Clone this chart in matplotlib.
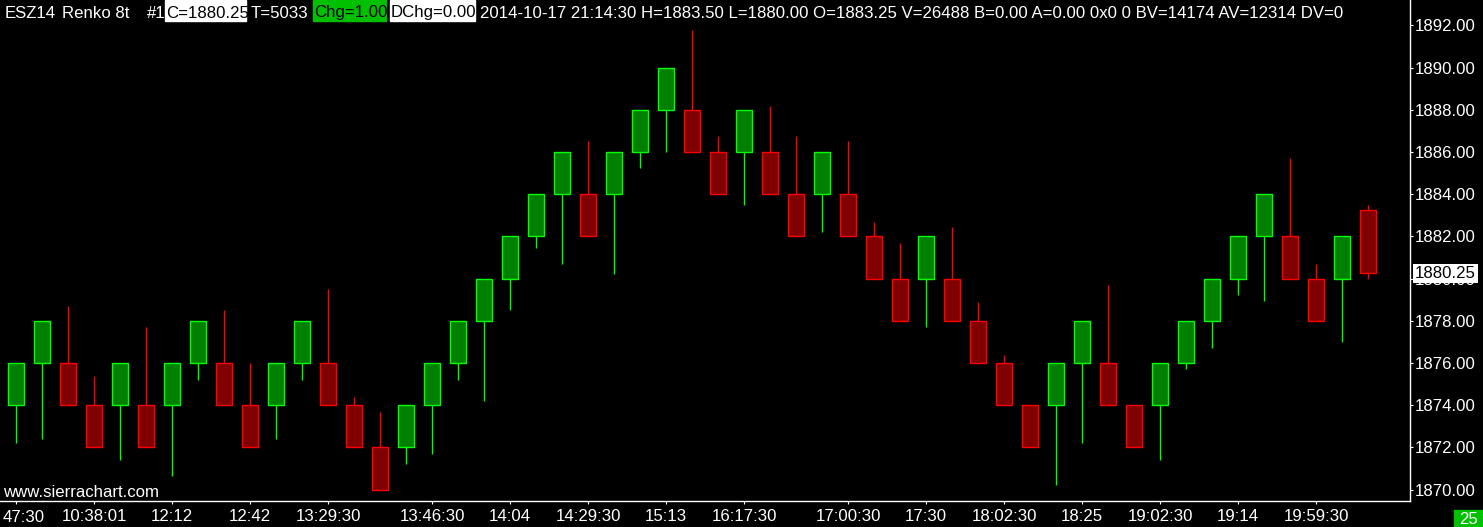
import matplotlib.pyplot as plt
import matplotlib.patches as mpatches
import numpy as np

W, H = 1483, 527

# renko bricks (8 ticks = 2.00 points)
opens = [1874, 1876, 1876, 1874, 1874, 1874, 1874, 1876, 1876, 1874,
         1874, 1876, 1876, 1874, 1872, 1872, 1874, 1876, 1878, 1880,
         1882, 1884, 1884, 1884, 1886, 1888, 1888, 1886, 1886, 1886,
         1884, 1884, 1884, 1882, 1880, 1880, 1880, 1878, 1876, 1874,
         1874, 1876, 1876, 1874, 1874, 1876, 1878, 1880, 1882, 1882,
         1880, 1880, 1883.25]
closes = [1876, 1878, 1874, 1872, 1876, 1872, 1876, 1878, 1874, 1872,
          1876, 1878, 1874, 1872, 1870, 1874, 1876, 1878, 1880, 1882,
          1884, 1886, 1882, 1886, 1888, 1890, 1886, 1884, 1888, 1884,
          1882, 1886, 1882, 1880, 1878, 1882, 1878, 1876, 1874, 1872,
          1876, 1878, 1874, 1872, 1876, 1878, 1880, 1882, 1884, 1880,
          1878, 1882, 1880.25]
highs = [1876, 1878, 1878.7, 1875.4, 1876, 1877.7, 1876, 1878, 1878.5, 1876.0,
         1876, 1878, 1879.5, 1874.4, 1873.7, 1874, 1876, 1878, 1880, 1882,
         1884, 1886, 1886.5, 1886, 1888, 1890, 1891.8, 1886.75, 1888, 1888.2,
         1886.75, 1886, 1886.5, 1882.7, 1881.7, 1882, 1882.45, 1878.9, 1876.4, 1874,
         1876, 1878, 1879.7, 1874, 1876, 1878, 1880, 1882, 1884, 1885.7,
         1880.7, 1882, 1883.5]
lows = [1872.2, 1872.4, 1874, 1872, 1871.4, 1872, 1870.65, 1875.2, 1874, 1872,
        1872.4, 1875.2, 1874, 1872, 1870, 1871.2, 1871.7, 1875.2, 1874.2, 1878.5,
        1881.45, 1880.7, 1882, 1880.2, 1885.25, 1886.0, 1886, 1884, 1883.5, 1884,
        1882, 1882.2, 1882, 1880, 1878, 1877.7, 1878, 1876, 1874, 1872,
        1870.2, 1872.2, 1874, 1872, 1871.4, 1875.7, 1876.7, 1879.2, 1878.95, 1880,
        1878, 1877.0, 1880.0]

tick_bars = [1, 4, 7, 10, 13, 17, 20, 23, 26, 29, 33, 36, 39, 42, 45, 48, 51]
tick_labels = ["", "10:38:01", "12:12", "12:42", "13:29:30", "13:46:30", "14:04",
               "14:29:30", "15:13", "16:17:30", "17:00:30", "17:30", "18:02:30",
               "18:25", "19:02:30", "19:14", "19:59:30"]
first_label = "47:30"
last_price = 1880.25

plt.rcParams['font.family'] = ['Liberation Sans', 'DejaVu Sans']
FS = 12.1

fig = plt.figure(figsize=(W / 100, H / 100), dpi=100, facecolor='black')
ax = fig.add_axes([0, (H - 501) / H, 1410 / W, 501 / H])
ax.set_facecolor('black')

idx = np.arange(1, len(opens) + 1)
o = np.array(opens)
c = np.array(closes)
up = c > o
edge = np.where(up, '#00ff00', '#ff0000')
fill = np.where(up, '#008000', '#800000')

ax.vlines(idx, lows, highs, colors=edge, linewidth=1.0, zorder=2)
ax.bar(idx, c - o, bottom=o, width=0.615, color=fill, edgecolor=edge,
       linewidth=1.0, zorder=3)

ax.set_xlim((0 + 10) / 26, (1410 + 10) / 26)
ax.set_ylim(1892 - (501 - 25.4) / 21.1, 1892 + 25.4 / 21.1)

for s in ['top', 'left']:
    ax.spines[s].set_visible(False)
for s in ['right', 'bottom']:
    ax.spines[s].set_color('white')
    ax.spines[s].set_linewidth(1.0)

ax.yaxis.tick_right()
ax.set_yticks(np.arange(1870, 1893, 2))
ax.set_yticklabels(['%.2f' % v for v in np.arange(1870, 1893, 2)])
ax.set_xticks(tick_bars)
ax.set_xticklabels(tick_labels)
ax.tick_params(axis='y', colors='white', labelcolor='white', length=2.5,
               width=0.8, pad=1, labelsize=FS)
ax.tick_params(axis='x', colors='white', labelcolor='white', length=2.5,
               width=0.8, pad=3, labelsize=FS)

# current price marker
ax.text(1.0 + 5 / 1410, last_price, '%.2f' % last_price,
        transform=ax.get_yaxis_transform(), ha='left', va='center',
        color='black', fontsize=FS, zorder=10, clip_on=False,
        bbox=dict(boxstyle='square,pad=0.1', fc='white', ec='none'))


def px(x, y):
    return x / W, 1 - y / H


def box(x0, x1, y0, y1, color):
    fig.patches.append(mpatches.Rectangle(px(x0, y1), (x1 - x0) / W,
                                          (y1 - y0) / H, color=color,
                                          transform=fig.transFigure, zorder=1))


# header line
base = 17.5
box(165, 246, 0, 21, 'white')
box(313, 386, 0, 21, '#00c000')
box(390, 475, 0, 21, 'white')
header = [(5, "ESZ14", 'white'), (62, "Renko 8t", 'white'), (147, "#1", 'white'),
          (166, "C=1880.25", 'black'), (251, "T=5033", 'white'),
          (314, "Chg=1.00", 'black'), (391, "DChg=0.00", 'black'),
          (480, "2014-10-17 21:14:30 H=1883.50 L=1880.00 O=1883.25 V=26488 "
                "B=0.00 A=0.00 0x0 0 BV=14174 AV=12314 DV=0", 'white')]
for x, t, col in header:
    fig.text(*px(x, base), t, color=col, fontsize=FS, va='baseline', ha='left',
             zorder=5)

fig.text(*px(3, 497), "www.sierrachart.com", color='white', fontsize=FS,
         va='baseline', ha='left')
fig.text(*px(3, 522), first_label, color='white', fontsize=FS,
         va='baseline', ha='left')

box(1454, 1483, 510, 527, '#00c000')
fig.text(*px(1468, 524), "25", color='white', fontsize=FS, va='baseline',
         ha='center', zorder=5)

fig.savefig('out.png', dpi=100, facecolor='black')
